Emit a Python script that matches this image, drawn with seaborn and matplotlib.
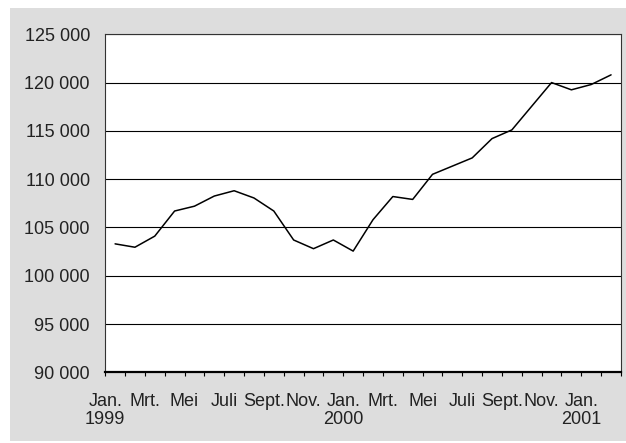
import numpy as np
import pandas as pd
import matplotlib
matplotlib.use('Agg')
import matplotlib.pyplot as plt
import matplotlib.ticker as ticker
from matplotlib.patches import Rectangle
import seaborn as sns

# monthly values, Jan. 1999 - Feb. 2001
months = ['Jan.', 'Feb.', 'Mrt.', 'Apr.', 'Mei', 'Juni', 'Juli', 'Aug.',
          'Sept.', 'Okt.', 'Nov.', 'Dec.'] * 2 + ['Jan.', 'Feb.']
years = [1999] * 12 + [2000] * 12 + [2001] * 2
values = [103300, 102950, 104100, 106700, 107200, 108250, 108800, 108050,
          106700, 103700, 102800, 103700, 102550, 105800, 108200, 107900,
          110500, 111350, 112200, 114200, 115100, 117550, 120000, 119250,
          119800, 120800]

df = pd.DataFrame({'month': months, 'year': years, 'value': values})
# categories sit between the tick marks
df['pos'] = np.arange(len(df)) + 0.5

sns.set_style('white')
plt.rcParams['font.family'] = ['Liberation Sans', 'DejaVu Sans']

fig = plt.figure(figsize=(6.26, 4.43), dpi=100)
fig.patch.set_facecolor('white')
fig.patches.append(Rectangle((10 / 626, 2 / 443), 1 - 10 / 626, 433 / 443,
                             transform=fig.transFigure, facecolor='#dddddd',
                             edgecolor='none', zorder=-10))

ax = fig.add_axes([0.168, 0.1596, 0.824, 0.763])
ax.set_facecolor('white')
sns.lineplot(data=df, x='pos', y='value', color='black', lw=1.1, ax=ax)

ax.set_xlim(0, len(df))
ax.set_ylim(90000, 125000)
ax.set_yticks(range(90000, 125001, 5000))
ax.yaxis.set_major_formatter(ticker.FuncFormatter(lambda v, p: f'{v:,.0f}'.replace(',', ' ')))
ax.yaxis.grid(True, color='black', lw=0.8)
ax.xaxis.grid(False)

# labels every two months, year under each January
major = list(range(0, len(df), 2))
labels = [f"{df.month[i]}\n{df.year[i]}" if df.month[i] == 'Jan.' else df.month[i] for i in major]
ax.set_xticks(major)
ax.set_xticklabels(labels, linespacing=1.1)
ax.set_xticks(range(0, len(df) + 1), minor=True)

ax.tick_params(axis='x', which='both', direction='out', length=3, width=0.8,
               color='black', bottom=True)
ax.tick_params(axis='x', which='major', pad=12, labelsize=13, labelcolor='#222222')
ax.tick_params(axis='y', length=0, pad=11, labelsize=13, labelcolor='#222222')

for side in ['top', 'right', 'left']:
    ax.spines[side].set_color('#333333')
    ax.spines[side].set_linewidth(0.8)
ax.spines['bottom'].set_color('black')
ax.spines['bottom'].set_linewidth(1.6)

ax.set_xlabel('')
ax.set_ylabel('')

fig.savefig('out.png', dpi=100)
